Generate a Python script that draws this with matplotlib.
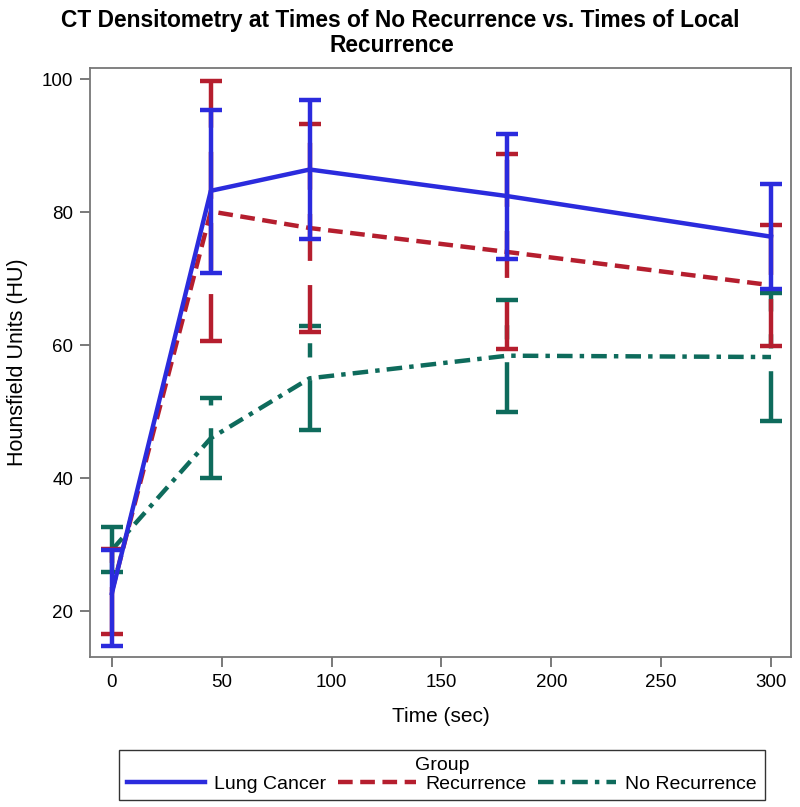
import matplotlib
matplotlib.use("Agg")
import matplotlib.pyplot as plt
from matplotlib.lines import Line2D
from matplotlib.patches import Rectangle

plt.rcParams['font.family'] = ['Liberation Sans', 'DejaVu Sans']

times = [0, 45, 90, 180, 300]

lung_mean = [22.7, 83.2, 86.4, 82.4, 76.3]
lung_low = [14.7, 70.9, 75.9, 73.0, 68.4]
lung_high = [29.2, 95.4, 96.9, 91.8, 84.2]

rec_mean = [23.0, 80.1, 77.6, 74.0, 69.0]
rec_low = [16.5, 60.6, 62.0, 59.4, 59.9]
rec_high = [29.4, 99.7, 93.2, 88.7, 78.0]

norec_mean = [29.2, 46.0, 55.0, 58.4, 58.2]
norec_low = [25.8, 40.0, 47.2, 50.0, 48.6]
norec_high = [32.6, 52.0, 62.9, 66.8, 67.9]

labels = ["Lung Cancer", "Recurrence", "No Recurrence"]
colors = ["#2B2BDD", "#B51E2E", "#0E6B5C"]
dashes = [None, (3.3, 1.7), (3.5, 1.6, 1.0, 1.6)]

W, H = 800, 807
fig = plt.figure(figsize=(8.0, 8.07), dpi=100)
ax = fig.add_axes([0.1125, 0.186, 0.876, 0.730])

series = [(lung_mean, lung_low, lung_high),
          (rec_mean, rec_low, rec_high),
          (norec_mean, norec_low, norec_high)]

lw = 3.2
handles = []
zorders = [5, 4, 3]
for (m, lo, hi), lab, c, d, z in zip(series, labels, colors, dashes, zorders):
    yerr = [[mm - l for mm, l in zip(m, lo)], [h - mm for mm, h in zip(m, hi)]]
    eb = ax.errorbar(times, m, yerr=yerr, color=c, lw=lw, elinewidth=lw,
                     capsize=8, capthick=lw, zorder=z)
    line = eb[0]
    if d is not None:
        line.set_dashes(d)
        for bl in eb[2]:
            bl.set_dashes([(0, tuple(x * lw for x in d))])
    h = Line2D([], [], color=c, lw=lw)
    if d is not None:
        h.set_dashes(d)
    handles.append(h)

ax.set_xlim(-10, 309)
ax.set_ylim(13.1, 101.7)
ax.set_xticks([0, 50, 100, 150, 200, 250, 300])
ax.set_yticks([20, 40, 60, 80, 100])
ax.tick_params(labelsize=13.5, length=7, width=1.1, color='#555555', pad=5)
for s in ax.spines.values():
    s.set_color('#777777')
    s.set_linewidth(1.3)
ax.set_xlabel("Time (sec)", fontsize=15, labelpad=12)
ax.set_ylabel("Hounsfield Units (HU)", fontsize=15.5, labelpad=10)

fig.text(0.5, 1 - 20 / H, "CT Densitometry at Times of No Recurrence vs. Times of Local",
         ha='center', va='center', fontsize=16.4, fontweight='bold')
fig.text(0.49, 1 - 46 / H, "Recurrence",
         ha='center', va='center', fontsize=16.4, fontweight='bold')

fig.patches.append(Rectangle((119 / W, 7 / H), 646 / W, 50 / H,
                             transform=fig.transFigure, fill=False,
                             edgecolor='#333333', lw=1.0))
leg = fig.legend(handles, labels, loc='center',
                 bbox_to_anchor=(127 / W, 7 / H, 630 / W, 50 / H),
                 mode='expand', ncol=3, title="Group", fontsize=14, title_fontsize=14,
                 handlelength=4.0, columnspacing=0.8, handletextpad=0.5,
                 frameon=False, borderpad=0.0, labelspacing=0.1, borderaxespad=0)

fig.savefig("out.png", dpi=100)
